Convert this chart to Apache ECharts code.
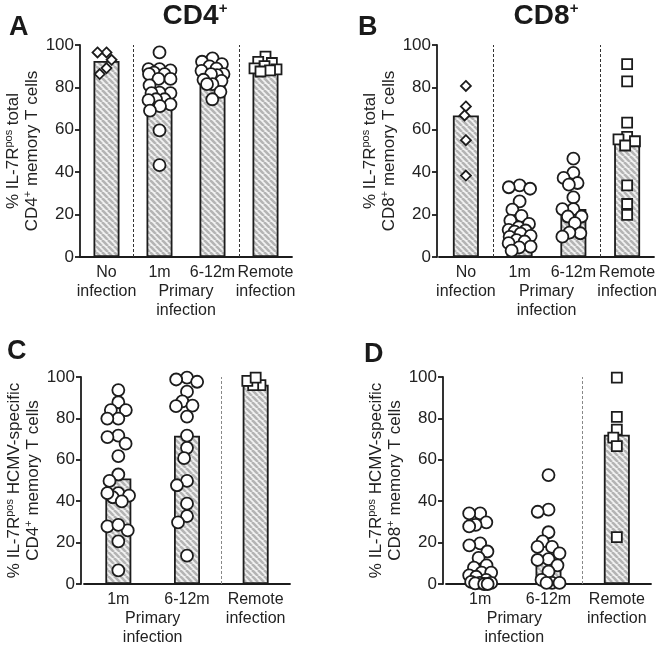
<!DOCTYPE html>
<html><head><meta charset="utf-8">
<script src="https://cdn.jsdelivr.net/npm/echarts@6/dist/echarts.min.js"></script>
<style>html,body{margin:0;padding:0;background:#fff}#c{width:662px;height:647px}</style>
</head><body><div id="c"></div><script>
// ---------- DATA ----------
const catsAB = ['No\ninfection', '1m', '6-12m', 'Remote\ninfection'];
const catsCD = ['1m', '6-12m', 'Remote\ninfection'];
const yTickMin = 0, yTickMax = 100, yTickStep = 20;

// Panel A: % IL-7Rpos total CD4+ memory T cells
const A_noInf  = [96.5, 96.5, 93.0, 89.1, 86.3];
const A_1m     = [96.5, 88.6, 88.0, 88.6, 87.0, 86.3, 86.3, 84.0, 84.0, 81.0, 77.3, 77.5, 77.3, 74.4, 74.4, 74.0, 72.0, 71.2, 69.0, 59.7, 43.3];
const A_6_12m  = [93.7, 92.1, 91.0, 89.9, 88.9, 87.8, 86.3, 85.8, 86.3, 83.6, 83.1, 81.5, 81.5, 77.9, 74.4];
const A_remote = [94.5, 92.0, 91.5, 90.0, 89.0, 88.5, 88.0, 87.5];
const A_bars   = [92.5, 78.8, 85.5, 89.4];

// Panel B: % IL-7Rpos total CD8+ memory T cells
const B_noInf  = [80.7, 71.0, 66.8, 55.1, 38.4];
const B_1m     = [33.8, 32.9, 32.2, 26.2, 22.3, 19.4, 17.2, 15.6, 14.0, 12.8, 12.5, 12.0, 11.0, 10.0, 9.5, 8.0, 7.3, 6.5, 4.9, 4.5, 3.0];
const B_6_12m  = [46.4, 39.7, 37.3, 34.9, 34.1, 28.1, 22.6, 22.6, 19.1, 19.1, 16.0, 11.2, 11.5, 9.6];
const B_remote = [91.0, 82.8, 63.4, 56.7, 55.5, 54.6, 52.6, 33.8, 25.0, 19.9];
const B_bars   = [66.8, 12.5, 22.6, 54.6];

// Panel C: % IL-7Rpos HCMV-specific CD4+ memory T cells
const C_1m     = [93.7, 87.8, 84.0, 84.0, 79.9, 79.9, 71.7, 71.0, 67.8, 61.8, 52.9, 49.8, 43.9, 41.9, 42.7, 43.9, 39.9, 27.8, 25.9, 28.6, 20.6, 6.6];
const C_6_12m  = [99.7, 98.8, 97.7, 92.9, 88.2, 86.2, 85.9, 80.9, 71.7, 65.8, 60.8, 49.8, 47.7, 38.8, 32.8, 29.8, 13.7];
const C_remote = [96.1, 96.1, 98.1, 99.7];
const C_bars   = [51.0, 71.6, 96.3];

// Panel D: % IL-7Rpos HCMV-specific CD8+ memory T cells
const D_1m     = [34.1, 34.1, 29.8, 28.6, 27.8, 19.6, 18.7, 15.7, 12.6, 9.0, 7.9, 5.5, 5.5, 4.2, 3.5, 2.0, 1.0, 0.5, 0.5, 0.3, 0, 0];
const D_6_12m  = [52.6, 35.9, 34.9, 25.0, 20.6, 17.9, 17.9, 14.8, 12.0, 11.6, 9.0, 6.0, 2.0, 0.5, 0.5, 0.5];
const D_remote = [99.7, 80.7, 74.6, 70.7, 66.6, 22.6];
const D_bars   = [5.5, 11.8, 72.1];

// ---------- STYLE / LAYOUT ----------
const FONT = "'Liberation Sans', Arial, Helvetica, sans-serif";
const INK = '#1c1c1c';

function hatch() {
  const p = 6, c = document.createElement('canvas');
  c.width = p; c.height = p;
  const g = c.getContext('2d');
  g.fillStyle = '#f2f2f2'; g.fillRect(0, 0, p, p);
  g.strokeStyle = '#b4b4b4'; g.lineWidth = 2.6;
  for (const k of [-p, 0, p]) { g.beginPath(); g.moveTo(k, 0); g.lineTo(k + p, p); g.stroke(); }
  return c;
}
const pattern = { image: hatch(), repeat: 'repeat' };

// beeswarm-style horizontal spread (pixel space), returns offsets in category units
function swarm(values, pxPerY, pxPerCat, dist, maxPx) {
  const order = values.map((v, i) => i).sort((a, b) => values[b] - values[a]);
  const placed = [], out = new Array(values.length).fill(0);
  for (const i of order) {
    const y = values[i] * pxPerY;
    const iv = [];
    for (const p of placed) {
      const dy = Math.abs(p.y - y);
      if (dy < dist) { const w = Math.sqrt(dist * dist - dy * dy); iv.push([p.x - w, p.x + w]); }
    }
    const cands = [0];
    iv.forEach(([a, b]) => cands.push(a, b));
    cands.sort((a, b) => Math.abs(a) - Math.abs(b));
    let x = null;
    for (const c of cands) {
      if (Math.abs(c) > maxPx + 1e-6) continue;
      if (iv.every(([a, b]) => c <= a + 1e-6 || c >= b - 1e-6)) { x = c; break; }
    }
    if (x === null) {
      let best = 0, bestD = -1;
      for (let c = -maxPx; c <= maxPx + 1e-6; c += 0.5) {
        let m = Infinity;
        for (const p of placed) m = Math.min(m, Math.hypot(p.x - c, p.y - y));
        if (m > bestD + 1e-6) { bestD = m; best = c; }
      }
      x = best;
    }
    placed.push({ x, y });
    out[i] = x / pxPerCat;
  }
  return out;
}

const panels = [
  { letter: 'A', letterPos: [9, 14], title: 'CD4', titleX: 195,
    grid: { left: 80, top: 45, width: 212, height: 212 }, yOffset: 0,
    cats: catsAB, bars: A_bars, groups: [A_noInf, A_1m, A_6_12m, A_remote],
    symbols: ['diamond', 'circle', 'circle', 'rect'], dividers: [0.5, 2.5], primaryAt: 1.5,
    yName: '% IL-7R{sup|pos} total\nCD4{sup|+} memory T cells', dash: '#333' },
  { letter: 'B', letterPos: [358, 14], title: 'CD8', titleX: 546,
    grid: { left: 439, top: 45, width: 215, height: 212 }, yOffset: 2,
    cats: catsAB, bars: B_bars, groups: [B_noInf, B_1m, B_6_12m, B_remote],
    symbols: ['diamond', 'circle', 'circle', 'rect'], dividers: [0.5, 2.5], primaryAt: 1.5,
    yName: '% IL-7R{sup|pos} total\nCD8{sup|+} memory T cells', dash: '#333' },
  { letter: 'C', letterPos: [7, 338],
    grid: { left: 84, top: 377, width: 206, height: 212 }, yOffset: 3,
    cats: catsCD, bars: C_bars, groups: [C_1m, C_6_12m, C_remote],
    symbols: ['circle', 'circle', 'rect'], dividers: [1.5], primaryAt: 0.5,
    yName: '% IL-7R{sup|pos} HCMV-specific\nCD4{sup|+} memory T cells', dash: '#888' },
  { letter: 'D', letterPos: [364, 341],
    grid: { left: 446, top: 377, width: 205, height: 212 }, yOffset: 3,
    cats: catsCD, bars: D_bars, groups: [D_1m, D_6_12m, D_remote],
    symbols: ['circle', 'circle', 'rect'], dividers: [1.5], primaryAt: 0.5,
    yName: '% IL-7R{sup|pos} HCMV-specific\nCD8{sup|+} memory T cells', dash: '#888' }
];

const symSize = { circle: 12, diamond: 10, rect: 10 };
const option = { animation: false, backgroundColor: '#fff', grid: [], xAxis: [], yAxis: [], series: [], graphic: [] };

panels.forEach((P, k) => {
  option.grid.push(P.grid);
  const n = P.cats.length;
  const pxPerCat = P.grid.width / n, pxPerY = P.grid.height / (yTickMax - yTickMin);
  option.xAxis.push({
    gridIndex: k, type: 'category', data: P.cats, boundaryGap: true, position: 'bottom',
    axisLine: { show: true, onZero: false, lineStyle: { color: INK, width: 1.8 } },
    axisTick: { show: false }, splitLine: { show: false },
    axisLabel: { interval: 0, fontFamily: FONT, fontSize: 16, lineHeight: 19, color: '#222', margin: 6 }
  });
  option.xAxis.push({
    gridIndex: k, type: 'value', min: -0.5, max: n - 0.5, interval: 0.5, position: 'bottom',
    axisLine: { show: false, onZero: false }, axisTick: { show: false }, splitLine: { show: false },
    axisLabel: { fontFamily: FONT, fontSize: 16, lineHeight: 19, color: '#222', margin: 6,
      formatter: v => Math.abs(v - P.primaryAt) < 1e-6 ? '\nPrimary\ninfection' : '' }
  });
  option.yAxis.push({
    gridIndex: k, type: 'value', min: yTickMin, max: yTickMax, interval: yTickStep, offset: P.yOffset,
    position: 'left',
    axisLine: { show: true, onZero: false, lineStyle: { color: INK, width: 1.8 } },
    axisTick: { show: true, length: 5, lineStyle: { color: INK, width: 1.8 } },
    splitLine: { show: false },
    axisLabel: { fontFamily: FONT, fontSize: 17, color: '#222', margin: 6 },
    name: P.yName, nameLocation: 'middle', nameRotate: 90, nameGap: 38,
    nameTextStyle: { fontFamily: FONT, fontSize: 17, lineHeight: 19, color: '#222',
      rich: { sup: { fontFamily: FONT, fontSize: 11, lineHeight: 11, verticalAlign: 'top', color: '#222' } } }
  });
  option.series.push({
    type: 'bar', xAxisIndex: 2 * k, yAxisIndex: k, data: P.bars, barWidth: 26, z: 2,
    itemStyle: { color: pattern, borderColor: INK, borderWidth: 1.8 }, silent: true
  });
  P.groups.forEach((vals, gi) => {
    const sym = P.symbols[gi], sz = symSize[sym];
    const dx = swarm(vals, pxPerY, pxPerCat, sz - 1, 11);
    const s = {
      type: 'scatter', xAxisIndex: 2 * k + 1, yAxisIndex: k, z: 4, symbol: sym, symbolSize: sz,
      data: vals.map((v, j) => [gi + dx[j], v]),
      itemStyle: { color: '#fff', borderColor: INK, borderWidth: 1.8, opacity: 1 }, silent: true
    };
    if (gi === 0) {
      s.markLine = { silent: true, symbol: ['none', 'none'], label: { show: false }, z: 1,
        lineStyle: { color: P.dash, type: [3, 2], width: 1 },
        data: P.dividers.map(d => ({ xAxis: d })) };
    }
    option.series.push(s);
  });
  option.graphic.push({ type: 'text', left: P.letterPos[0], top: P.letterPos[1],
    style: { text: P.letter, fontFamily: FONT, fontWeight: 'bold', fontSize: 27, fill: '#1a1a1a' } });
  if (P.title) {
    option.graphic.push({ type: 'text', x: P.titleX, y: 1,
      style: { text: '{m|' + P.title + '}{s|+}', align: 'center', verticalAlign: 'top',
        rich: { m: { fontFamily: FONT, fontWeight: 'bold', fontSize: 28, lineHeight: 30, fill: '#1a1a1a', color: '#1a1a1a' },
                s: { fontFamily: FONT, fontWeight: 'bold', fontSize: 15, lineHeight: 16, verticalAlign: 'top', fill: '#1a1a1a', color: '#1a1a1a' } } } });
  }
});

const chart = echarts.init(document.getElementById('c'), null, { renderer: 'canvas' });
chart.setOption(option);
</script></body></html>
